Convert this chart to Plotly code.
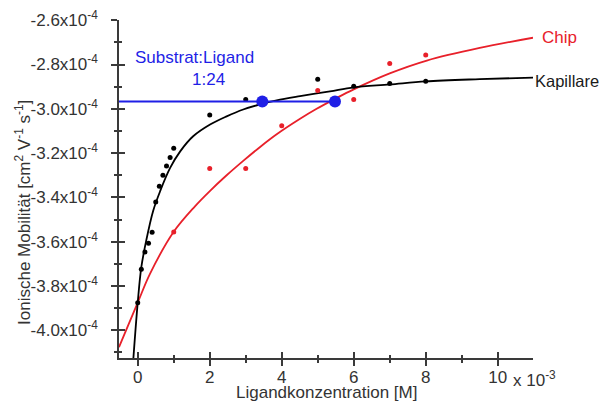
import plotly.graph_objects as go

# Kapillare (black) measured points, x in 10^-3 M, y in 10^-4 cm2/Vs
kap_x = [0, 0.1, 0.2, 0.3, 0.4, 0.5, 0.6, 0.7, 0.8, 0.9, 1.0, 2, 3, 5, 6, 7, 8]
kap_y = [-3.875, -3.724, -3.646, -3.607, -3.557, -3.421, -3.350, -3.300, -3.258, -3.220, -3.178,
         -3.028, -2.958, -2.867, -2.898, -2.886, -2.875]

# Kapillare fit curve
kap_fit_x = [-0.12, 0.0, 0.1, 0.24, 0.43, 0.62, 0.9, 1.18, 1.54, 2.01, 2.47, 2.93, 3.4, 3.86,
             4.51, 5.34, 6.0, 7.0, 8.0, 9.5, 10.98]
kap_fit_y = [-4.125, -3.875, -3.715, -3.592, -3.46, -3.373, -3.267, -3.192, -3.124, -3.071, -3.034,
             -3.003, -2.98, -2.962, -2.943, -2.921, -2.903, -2.89, -2.876, -2.866, -2.859]

# Chip (red) measured points
chip_x = [1, 2, 3, 4, 5, 6, 7, 8]
chip_y = [-3.556, -3.270, -3.270, -3.077, -2.917, -2.958, -2.795, -2.757]

# Chip fit curve
chip_fit_x = [-0.52, 0.0, 0.34, 1.0, 1.59, 2.01, 2.47, 2.93, 3.4, 3.86, 4.51, 4.97, 5.48, 6.0,
              7.0, 8.03, 9.5, 10.98]
chip_fit_y = [-4.076, -3.875, -3.745, -3.555, -3.44, -3.37, -3.30, -3.235, -3.172, -3.115, -3.045,
              -3.0, -2.955, -2.912, -2.84, -2.782, -2.725, -2.679]

# Substrat:Ligand 1:24 marker line
blue_x = [-0.52, 3.46, 5.48]
blue_y = [-2.967, -2.967, -2.967]

y_ticks = [-4.0, -3.8, -3.6, -3.4, -3.2, -3.0, -2.8, -2.6]
y_text = ["%.1fx10<sup>-4</sup>" % v for v in y_ticks]
y_minor = [-4.1, -3.9, -3.7, -3.5, -3.3, -3.1, -2.9, -2.7]
x_ticks = [0, 2, 4, 6, 8, 10]
x_minor = [1, 3, 5, 7, 9]

x_range = [-0.52, 10.98]
y_range = [-4.125, -2.599]

FONT = "Liberation Sans, Arial, sans-serif"
TXT = "#333333"
AX = "#3a3a3a"
RED = "#e8202a"
BLUE = "#1f1fe6"

fig = go.Figure()

fig.add_trace(go.Scatter(x=chip_fit_x, y=chip_fit_y, mode="lines", line=dict(color=RED, width=1.8, shape="spline"),
                         showlegend=False, hoverinfo="skip"))
fig.add_trace(go.Scatter(x=kap_fit_x, y=kap_fit_y, mode="lines", line=dict(color="black", width=1.8, shape="spline"),
                         showlegend=False, hoverinfo="skip"))
fig.add_trace(go.Scatter(x=chip_x, y=chip_y, mode="markers", marker=dict(color=RED, size=5),
                         showlegend=False))
fig.add_trace(go.Scatter(x=kap_x, y=kap_y, mode="markers", marker=dict(color="black", size=5),
                         showlegend=False))
fig.add_trace(go.Scatter(x=blue_x, y=blue_y, mode="lines", line=dict(color=BLUE, width=1.8),
                         showlegend=False, cliponaxis=False))
fig.add_trace(go.Scatter(x=blue_x[1:], y=blue_y[1:], mode="markers", marker=dict(color=BLUE, size=12),
                         showlegend=False, cliponaxis=False))
# empty trace so the overlay axes (inner half of the crossing ticks) get drawn
fig.add_trace(go.Scatter(x=[], y=[], xaxis="x2", yaxis="y2", showlegend=False))

tickfont = dict(family=FONT, size=17, color=TXT)
tick_style = dict(ticklen=6, tickwidth=1.5, tickcolor=AX)
minor_style = dict(ticklen=3, tickwidth=1.5, tickcolor=AX)

# page body has an 8px margin, so the figure is 16px smaller than the window
fig.update_layout(
    width=594, height=393,
    margin=dict(l=111, r=69, t=12, b=43),
    paper_bgcolor="white", plot_bgcolor="white",
    font=dict(family=FONT, size=17, color=TXT),
    showlegend=False,
    xaxis=dict(range=x_range, showgrid=False, zeroline=False, showline=True, linecolor=AX, linewidth=1.5,
               ticks="outside", **tick_style, automargin=False,
               tickmode="array", tickvals=x_ticks, ticktext=[str(v) for v in x_ticks],
               minor=dict(tickvals=x_minor, ticks="outside", **minor_style),
               tickfont=tickfont, ticklabelstandoff=-3, ticklabeloverflow="allow"),
    xaxis2=dict(range=x_range, overlaying="x", anchor="y", side="bottom", showgrid=False, zeroline=False,
                showline=False, showticklabels=False, automargin=False,
                ticks="inside", **tick_style, tickmode="array", tickvals=x_ticks,
                minor=dict(tickvals=x_minor, ticks="inside", **minor_style)),
    yaxis=dict(range=y_range, showgrid=False, zeroline=False, showline=True, linecolor=AX, linewidth=1.5,
               ticks="outside", **tick_style, automargin=False,
               tickmode="array", tickvals=y_ticks, ticktext=y_text,
               minor=dict(tickvals=y_minor, ticks="outside", **minor_style),
               tickfont=tickfont, ticklabelstandoff=10, ticklabeloverflow="allow"),
    yaxis2=dict(range=y_range, overlaying="y", anchor="x", side="left", showgrid=False, zeroline=False,
                showline=False, showticklabels=False, automargin=False,
                ticks="inside", **tick_style, tickmode="array", tickvals=y_ticks,
                minor=dict(tickvals=y_minor, ticks="inside", **minor_style)),
)

fig.add_annotation(text="Ionische Mobilität [cm<sup>2</sup> V<sup>-1</sup> s<sup>-1</sup>]",
                   xref="paper", yref="paper", x=-0.232, y=0.432, textangle=-90,
                   showarrow=False, font=tickfont, xanchor="center", yanchor="middle")
fig.add_annotation(text="Ligandkonzentration [M]", xref="paper", yref="paper", x=0.5, y=-0.1006,
                   showarrow=False, font=tickfont, xanchor="center", yanchor="middle")
fig.add_annotation(text="x 10<sup>-3</sup>", xref="x", yref="paper", x=10.38, y=-0.062,
                   xanchor="left", yanchor="middle", showarrow=False, font=tickfont)
fig.add_annotation(text="Substrat:Ligand", x=1.59, y=-2.768, showarrow=False,
                   font=dict(family=FONT, size=17, color=BLUE))
fig.add_annotation(text="1:24", x=1.96, y=-2.867, showarrow=False,
                   font=dict(family=FONT, size=17, color=BLUE))
fig.add_annotation(text="Chip", xref="paper", x=1.017, y=-2.678, xanchor="left", showarrow=False,
                   font=dict(family=FONT, size=17, color=RED))
fig.add_annotation(text="Kapillare", xref="paper", x=1.0, y=-2.875, xanchor="left", showarrow=False,
                   font=dict(family=FONT, size=16.5, color="#1a1a1a"))

fig.write_html("out.html")
